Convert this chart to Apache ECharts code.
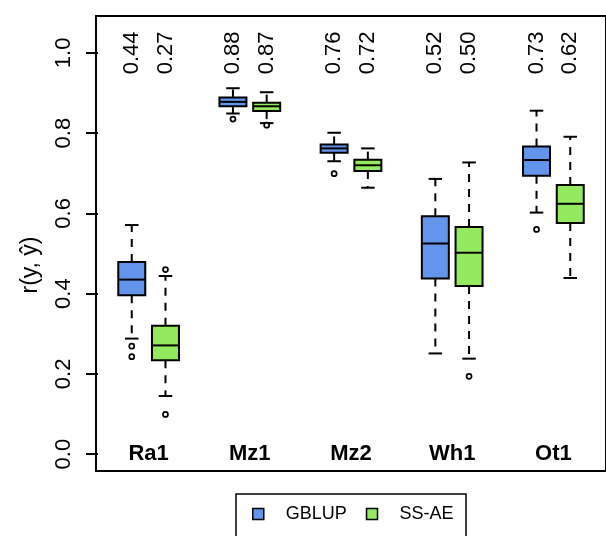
<!DOCTYPE html>
<html>
<head>
<meta charset="utf-8">
<script src="https://cdn.jsdelivr.net/npm/echarts@6/dist/echarts.min.js"></script>
<style>
html,body{margin:0;padding:0;background:#fff;}
#chart{width:606px;height:536px;}
</style>
</head>
<body>
<div id="chart"></div>
<script>
// ---- data ----
const categories = ['Ra1', 'Mz1', 'Mz2', 'Wh1', 'Ot1'];
const seriesNames = ['GBLUP', 'SS-AE'];
const yAxisTitle = 'r(y, ŷ)';
// [lower whisker, Q1, median, Q3, upper whisker]
const gblupStats = [
  [0.288, 0.396, 0.435, 0.479, 0.571],
  [0.849, 0.867, 0.878, 0.889, 0.912],
  [0.730, 0.751, 0.762, 0.772, 0.801],
  [0.251, 0.438, 0.525, 0.593, 0.686],
  [0.602, 0.694, 0.733, 0.767, 0.856]
];
const ssaeStats = [
  [0.145, 0.234, 0.271, 0.320, 0.444],
  [0.825, 0.855, 0.867, 0.876, 0.902],
  [0.664, 0.706, 0.720, 0.734, 0.762],
  [0.238, 0.419, 0.502, 0.566, 0.727],
  [0.439, 0.576, 0.624, 0.671, 0.791]
];
const gblupOutliers = [[0.269, 0.243], [0.835], [0.699], [], [0.560]];
const ssaeOutliers = [[0.460, 0.099], [0.820], [], [0.194], []];
const gblupLabels = ['0.44', '0.88', '0.76', '0.52', '0.73'];
const ssaeLabels = ['0.27', '0.87', '0.72', '0.50', '0.62'];
const yTicks = [0.0, 0.2, 0.4, 0.6, 0.8, 1.0];

// ---- build ----
const FONT = 'Liberation Sans, Arial, Helvetica, sans-serif';
const colors = ['#6495ED', '#94EA5E'];
const allStats = [gblupStats, ssaeStats];
const allOut = [gblupOutliers, ssaeOutliers];
const allLabels = [gblupLabels, ssaeLabels];
const posOf = (ci, si) => 3 * ci + 1 + si;

function renderBox(params, api) {
  const x = api.value(0);
  const lo = api.coord([x, api.value(1)]);
  const q1 = api.coord([x, api.value(2)]);
  const med = api.coord([x, api.value(3)]);
  const q3 = api.coord([x, api.value(4)]);
  const hi = api.coord([x, api.value(5)]);
  const hw = api.size([0.4, 0])[0];
  const cw = api.size([0.2, 0])[0];
  const cx = q1[0];
  const color = api.visual('color');
  const dash = {stroke: '#000', lineWidth: 2, lineDash: [8, 7]};
  const solid = {stroke: '#000', lineWidth: 2};
  return {
    type: 'group',
    children: [
      {type: 'line', shape: {x1: cx, y1: q3[1], x2: cx, y2: hi[1]}, style: dash},
      {type: 'line', shape: {x1: cx, y1: q1[1], x2: cx, y2: lo[1]}, style: dash},
      {type: 'line', shape: {x1: cx - cw, y1: hi[1], x2: cx + cw, y2: hi[1]}, style: solid},
      {type: 'line', shape: {x1: cx - cw, y1: lo[1], x2: cx + cw, y2: lo[1]}, style: solid},
      {type: 'rect', shape: {x: cx - hw, y: q3[1], width: 2 * hw, height: q1[1] - q3[1]},
        style: {fill: color, stroke: '#000', lineWidth: 2}},
      {type: 'line', shape: {x1: cx - hw, y1: med[1], x2: cx + hw, y2: med[1]}, style: solid}
    ]
  };
}

const series = [];
seriesNames.forEach((name, si) => {
  series.push({
    name: name,
    type: 'custom',
    renderItem: renderBox,
    itemStyle: {color: colors[si]},
    encode: {x: 0, y: [1, 2, 3, 4, 5]},
    data: allStats[si].map((s, ci) => [posOf(ci, si)].concat(s)),
    z: 3
  });
  const outData = [];
  allOut[si].forEach((arr, ci) => arr.forEach(v => outData.push([posOf(ci, si), v])));
  series.push({
    name: name,
    type: 'scatter',
    symbol: 'circle',
    symbolSize: 5,
    itemStyle: {color: '#fff', borderColor: '#000', borderWidth: 1.7, opacity: 1},
    data: outData,
    z: 4,
    silent: true
  });
  series.push({
    type: 'custom',
    silent: true,
    renderItem: function (params, api) {
      const p = api.coord([api.value(0), 1.0]);
      return {
        type: 'text', x: p[0], y: p[1], rotation: Math.PI / 2,
        style: {text: allLabels[si][params.dataIndex], fontSize: 22, fontFamily: FONT,
          fill: '#000', align: 'center', verticalAlign: 'middle'}
      };
    },
    data: allLabels[si].map((l, ci) => [posOf(ci, si), 1.0]),
    z: 5
  });
});
series.push({
  type: 'custom',
  silent: true,
  renderItem: function (params, api) {
    const p = api.coord([api.value(0), 0]);
    return {
      type: 'text', x: p[0], y: p[1],
      style: {text: categories[params.dataIndex], fontSize: 22, fontWeight: 'bold',
        fontFamily: FONT, fill: '#000', align: 'center', verticalAlign: 'middle'}
    };
  },
  data: categories.map((c, ci) => [3 * ci + 1.5, 0]),
  z: 5
});

const chart = echarts.init(document.getElementById('chart'), null, {renderer: 'canvas'});
chart.setOption({
  animation: false,
  backgroundColor: '#fff',
  textStyle: {fontFamily: FONT},
  grid: {left: 96, top: 16, width: 520.7, height: 455, show: true,
    borderColor: '#000', borderWidth: 2, backgroundColor: 'transparent'},
  xAxis: {type: 'value', min: -0.06, max: 15.06,
    axisLine: {show: false}, axisTick: {show: false}, axisLabel: {show: false}, splitLine: {show: false}},
  yAxis: {
    type: 'value', min: -0.042, max: 1.092,
    axisLine: {show: false},
    axisTick: {show: true, length: 12, customValues: yTicks, lineStyle: {color: '#000', width: 2}},
    axisLabel: {show: true, customValues: yTicks, rotate: 90, margin: 21, fontSize: 22,
      color: '#000', fontFamily: FONT, formatter: v => v.toFixed(1)},
    splitLine: {show: false}
  },
  legend: {
    left: 252, top: 505, padding: 0, itemWidth: 11, itemHeight: 11, itemGap: 19,
    icon: 'rect', selectedMode: false,
    textStyle: {fontSize: 18, color: '#000', fontFamily: FONT, padding: [0, 0, 0, 17]},
    data: seriesNames.map((n, i) => ({name: n,
      itemStyle: {color: colors[i], borderColor: '#000', borderWidth: 1.5}}))
  },
  graphic: [
    {type: 'rect', shape: {x: 236, y: 494, width: 230, height: 60},
      style: {fill: 'none', stroke: '#000', lineWidth: 1.5}, z: 10},
    {type: 'text', x: 31, y: 265, rotation: Math.PI / 2,
      style: {text: yAxisTitle, fontSize: 23, fontFamily: FONT, fill: '#000',
        align: 'center', verticalAlign: 'middle'}, z: 10}
  ],
  series: series
});
</script>
</body>
</html>
